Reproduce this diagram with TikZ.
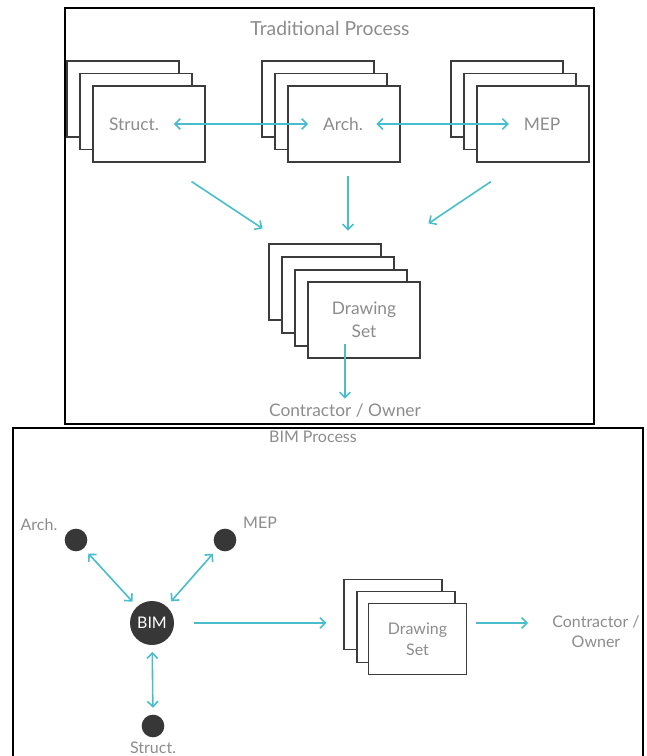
\documentclass[tikz,border=0pt]{standalone}
\usepackage{fontspec}
\setmainfont{Lato}
\usetikzlibrary{arrows.meta, positioning, calc}
\definecolor{bimcyan}{RGB}{72,190,204}
\definecolor{txtgray}{RGB}{140,140,140}
\definecolor{dotgray}{RGB}{55,55,55}
\definecolor{pageline}{RGB}{60,60,60}

\begin{document}
\begin{tikzpicture}[x=0.75pt,y=-0.75pt,
  page/.style={draw=pageline,fill=white,line width=0.8pt,inner sep=0pt,
    minimum width=84pt,minimum height=57pt,align=center,
    font=\fontsize{13}{17}\selectfont,text=txtgray},
  spage/.style={page,minimum width=73.5pt,minimum height=53pt,
    font=\fontsize{12}{16}\selectfont},
  lbl/.style={font=\fontsize{13}{15}\selectfont,text=txtgray,inner sep=1pt},
  slbl/.style={font=\fontsize{12}{15}\selectfont,text=txtgray,inner sep=1pt,align=center},
  dot/.style={circle,fill=dotgray,minimum size=17pt,inner sep=0pt},
  arr/.style={-{Straight Barb[length=4pt,width=8pt]},line width=1.2pt,draw=bimcyan},
  darr/.style={arr,{Straight Barb[length=4pt,width=8pt]}-{Straight Barb[length=4pt,width=8pt]}},
  frame/.style={line width=1.5pt,draw=black}]
  \useasboundingbox (0,0) rectangle (646,756);
  %% Traditional process
  \draw[frame] (65,8) rectangle (594,424);
  \node[font=\fontsize{14.5}{17}\selectfont,text=txtgray](tp) at (330,28){Traditional Process};
  % Struct. stack
  \node[page](s1) at (123,99){};
  \node[page](s2) at (136,111.5){};
  \node[page](s3) at (149,124){};
  \node[lbl](sl) at (134,124){Struct.};
  % Arch. stack
  \node[page](a1) at (318,99){};
  \node[page](a2) at (331,111.5){};
  \node[page](a3) at (344,124){};
  \node[lbl](al) at (343,124){Arch.};
  % MEP stack
  \node[page](m1) at (507,99){};
  \node[page](m2) at (520,111.5){};
  \node[page](m3) at (533,124){};
  \node[lbl](ml) at (542,124){MEP};
  \draw[darr,shorten <=10pt,shorten >=10pt](sl.east)--(al.west);
  \draw[darr,shorten <=9pt,shorten >=10pt](al.east)--(ml.west);
  % drawing set
  \node[page](d1) at (325,282){};
  \node[page](d2) at (338,295){};
  \node[page](d3) at (351,308){};
  \node[page](d4) at (364,320){Drawing\\Set};
  \coordinate (sa) at ($(s3.south east)+(-14,19)$);
  \coordinate (sb) at ($(d1.north west)+(-6,-15)$);
  \coordinate (aa) at ($(a3.south)+(4,13)$);
  \coordinate (ab) at ($(aa)+(0,55)$);
  \coordinate (ma) at ($(m3.south)+(-42,19)$);
  \coordinate (mb) at ($(d4.north east)+(8,-58)$);
  \draw[arr](sa)--(sb);
  \draw[arr](aa)--(ab);
  \draw[arr](ma)--(mb);
  \node[lbl](co) at (345,411){Contractor / Owner};
  \draw[arr,shorten <=-11pt,shorten >=3pt](d4.south -| co)--(co.north);
  %% BIM process
  \draw[frame] (13,760)--(13,428)--(643,428)--(643,760);
  \node[slbl](bp) at (313,437){BIM Process};
  \node[dot,minimum size=33pt,text=white,font=\fontsize{12}{14}\selectfont](bim) at (152,623){BIM};
  \node[dot](arch) at (76,540){};
  \node[dot](mep) at (225,540){};
  \node[dot](str) at (153,726){};
  \node[slbl](archl) at (39,525){Arch.};
  \node[slbl](mepl) at (260,523){MEP};
  \node[slbl](strl) at (153,748){Struct.};
  \draw[darr,shorten <=5pt,shorten >=5pt](arch)--(bim);
  \draw[darr,shorten <=5pt,shorten >=5pt](mep)--(bim);
  \draw[darr,shorten <=5pt,shorten >=5pt](bim)--(str);
  % drawing set
  \node[spage](b1) at (393,614.5){};
  \node[spage](b2) at (406,627){};
  \node[spage](b3) at (417.5,639){Drawing\\Set};
  \node[slbl](bco) at (596,632){Contractor /\\Owner};
  \coordinate (bt) at ($(b1.west |- bim)+(-17,0)$);
  \draw[arr,shorten <=15pt](bim)--(bt);
  \draw[arr,shorten <=7pt,shorten >=17pt](b3.east |- bim)--(bco.west |- bim);
\end{tikzpicture}
\end{document}
